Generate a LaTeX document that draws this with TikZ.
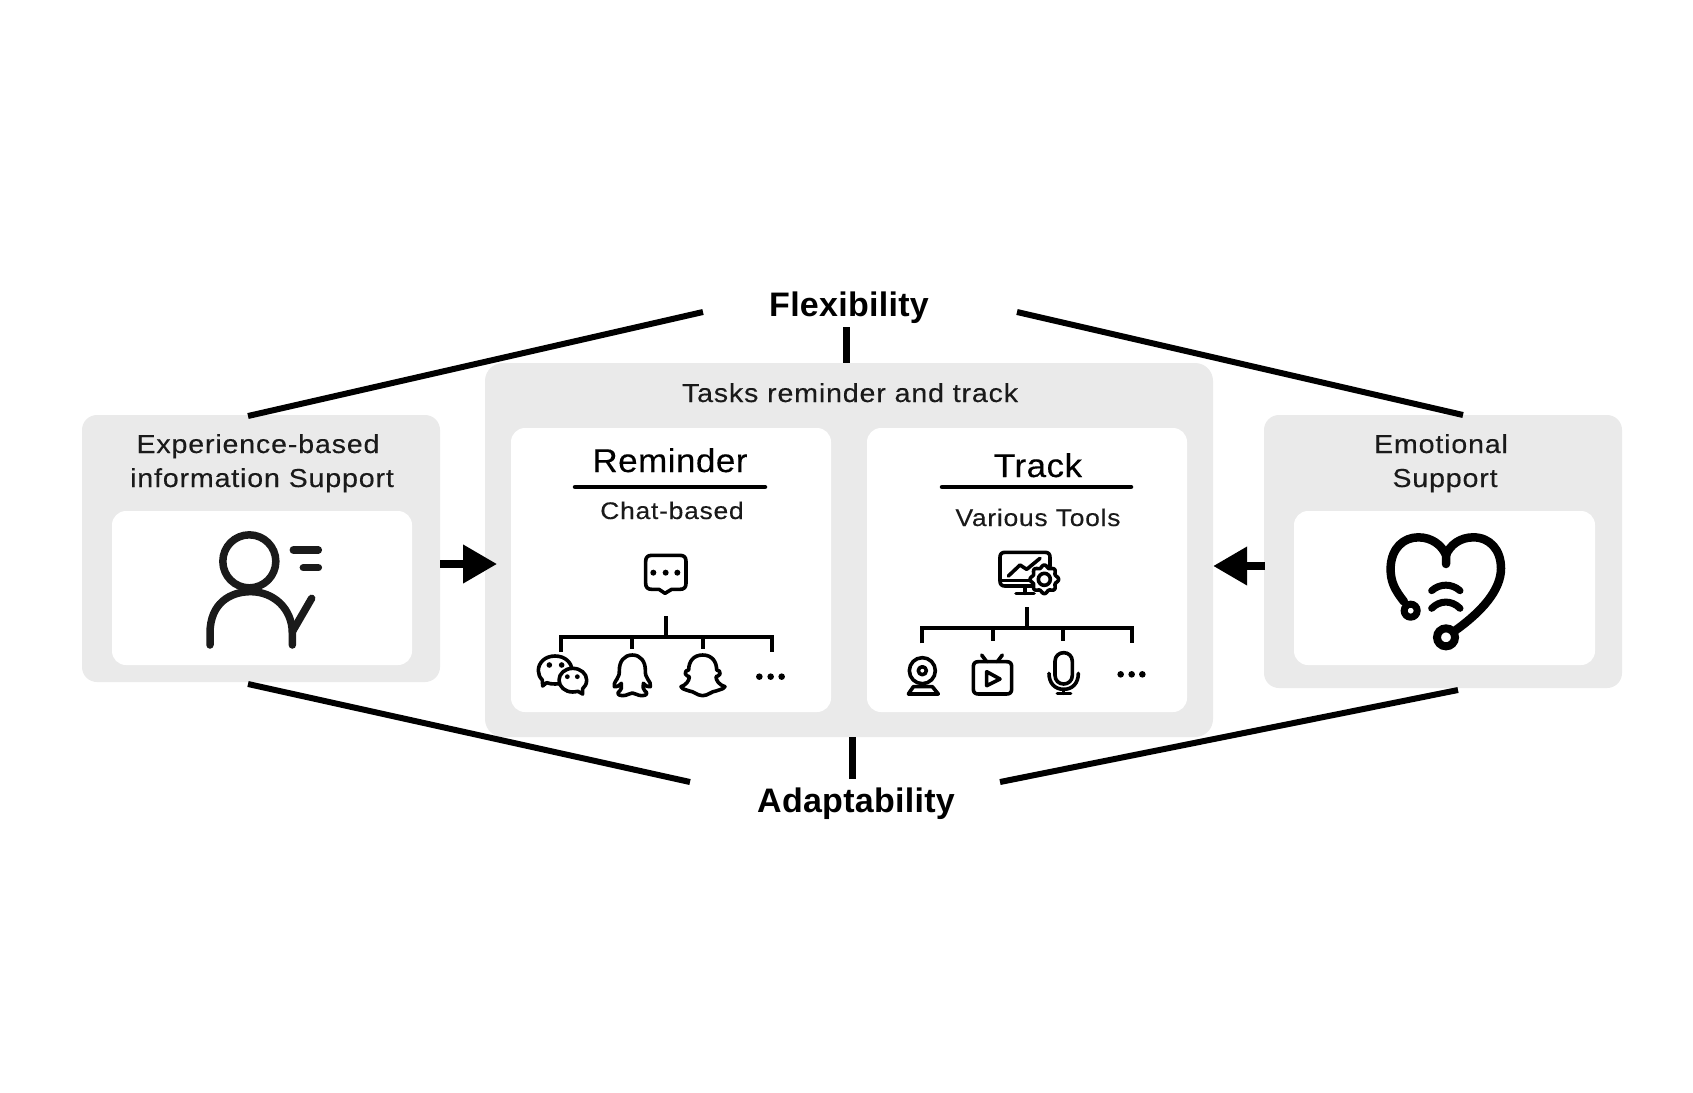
\documentclass[tikz,border=0pt]{standalone}
\usepackage{fontspec}
\setmainfont{Liberation Sans}[FakeStretch=1.1,LetterSpace=3.2,FakeBold=0.25]
\newfontfamily\headfont{Liberation Sans}[LetterSpace=0.8]
\newfontfamily\midfont{Liberation Sans}[FakeStretch=1.06,LetterSpace=1.5,FakeBold=0.25]
\usetikzlibrary{arrows.meta}
\definecolor{panelgray}{HTML}{EAEAEA}
\definecolor{inktext}{HTML}{1A1A1A}
\tikzset{
  graybox/.style={fill=panelgray,rounded corners=15pt,inner sep=0pt,draw=none},
  whitebox/.style={fill=white,rounded corners=14pt,inner sep=0pt,draw=none},
  label/.style={anchor=base,inner sep=0pt,text=inktext,font=\fontsize{26}{30}\selectfont},
  sublabel/.style={anchor=base,inner sep=0pt,text=inktext,font=\fontsize{24}{30}\selectfont},
  titlelabel/.style={anchor=base,inner sep=0pt,text=black,font=\midfont\fontsize{33}{38}\selectfont},
  headlabel/.style={anchor=base,inner sep=0pt,text=black,font=\headfont\bfseries\fontsize{34}{38}\selectfont},
  linkline/.style={line width=6pt,draw=black},
  stemline/.style={line width=7pt,draw=black},
  ruleline/.style={line width=4.5pt,draw=black,line cap=round},
  treeline/.style={line width=4pt,draw=black},
  flowarrow/.style={line width=7.5pt,draw=black,-{Triangle[length=34pt,width=37pt]}},
  icon/.style={line width=7.5pt,draw=inktext,line cap=round,line join=round},
  smallicon/.style={line width=3.6pt,draw=black,line join=round,line cap=round},
  zA/.style={x=.33333pt,y=-.33333pt,shift={(60pt,-400pt)}},
  zB/.style={x=.33333pt,y=-.33333pt,shift={(500pt,-530pt)}},
  zC/.style={x=.33333pt,y=-.33333pt,shift={(860pt,-530pt)}},
  zD/.style={x=.33333pt,y=-.33333pt,shift={(1200pt,-400pt)}},
}
\begin{document}
\begin{tikzpicture}[x=1pt,y=-1pt]
\useasboundingbox (0,0) rectangle (1693,1092);
\fill[white] (0,0) rectangle (1693,1092);

% boxes
\node[graybox,minimum width=358pt,minimum height=267pt] (leftbox) at (261,548.5) {};
\node[whitebox,minimum width=300pt,minimum height=154pt] (leftin) at (262,588) {};
\node[graybox,minimum width=358pt,minimum height=273pt] (rightbox) at (1443,551.5) {};
\node[whitebox,minimum width=301pt,minimum height=154pt] (rightin) at (1444.5,588) {};
\node[graybox,rounded corners=18pt,minimum width=728pt,minimum height=374pt] (midbox) at (849,550) {};
\node[whitebox,minimum width=320pt,minimum height=284pt] (remind) at (671,570) {};
\node[whitebox,minimum width=320pt,minimum height=284pt] (track) at (1027,570) {};

% labels
\node[headlabel] (flex) at (849,316) {Flexibility};
\node[headlabel] (adapt) at (856,812) {Adaptability};
\node[label] (tasks) at (850,402) {Tasks reminder and track};
\node[label] (exp1) at (258,453) {Experience-based};
\node[label] (exp2) at (262,487) {information Support};
\node[label] (emo1) at (1441,453) {Emotional};
\node[label] (emo2) at (1445,487) {Support};
\node[titlelabel] (remt) at (670,472) {Reminder};
\node[titlelabel] (trat) at (1038,477) {Track};
\node[sublabel] (chat) at (672,519) {Chat-based};
\node[sublabel] (tools) at (1038,526) {Various Tools};

% outer connectors
\coordinate (tl) at (248,416);
\coordinate (tlf) at (703,312);
\coordinate (trf) at (1017,312);
\coordinate (tr) at (1463,415);
\coordinate (bl) at (248,684);
\coordinate (blf) at (690,782);
\coordinate (brf) at (1000,782);
\coordinate (br) at (1458,690);
\coordinate (tcf) at (846,327);
\coordinate (bcf) at (852,779);
\draw[linkline] (tl) -- (tlf);
\draw[linkline] (trf) -- (tr);
\draw[linkline] (bl) -- (blf);
\draw[linkline] (brf) -- (br);
\draw[stemline] (tcf) -- (tcf |- midbox.north);
\draw[stemline] (bcf) -- (bcf |- midbox.south);

% rules
\coordinate (rr1) at (575,487); \coordinate (rr2) at (765,487);
\coordinate (tr1) at (942,487); \coordinate (tr2) at (1131,487);
\draw[ruleline] (rr1) -- (rr2);
\draw[ruleline] (tr1) -- (tr2);

% flow arrows
\coordinate (al) at (440,564);
\coordinate (alt) at (497,564);
\coordinate (ar) at (1265,566);
\draw[flowarrow] (al) -- (alt);
\draw[flowarrow] (ar) -- (ar -| midbox.east);

% person icon
\begin{scope}[zA]
\draw[icon] (568,484) circle (26.5pt);
\draw[icon] (450,735) -- (450,700) .. controls (450,610) and (510,575) .. (572,575) .. controls (640,575) and (697,625) .. (697,700) -- (697,735);
\draw[icon] (697,695) -- (755,595);
\draw[icon] (700,450) -- (775,450);
\draw[icon] (730,503) -- (775,503);
\end{scope}

% heart icon
\begin{scope}[zD]
\draw[line width=8.5pt,draw=black,line cap=round,line join=round]
  (612,605) .. controls (585,570) and (570,545) .. (572,500)
  .. controls (575,445) and (610,412) .. (655,412)
  .. controls (695,412) and (725,435) .. (738,465) -- (738,492);
\draw[line width=8.5pt,draw=black,line cap=round,line join=round]
  (738,465) .. controls (750,435) and (780,412) .. (820,412)
  .. controls (870,412) and (903,450) .. (903,505)
  .. controls (903,570) and (845,635) .. (765,692);
\draw[line width=7pt,draw=black,fill=white] (632,632) circle (6.5pt);
\draw[line width=8pt,draw=black,fill=white] (738,712) circle (9pt);
\draw[line width=7pt,draw=black,line cap=round] (695,572) .. controls (720,550) and (755,550) .. (780,572);
\draw[line width=7pt,draw=black,line cap=round] (695,625) .. controls (720,600) and (755,600) .. (780,625);
\end{scope}

% reminder tree
\coordinate (rs) at (666.3,616); \coordinate (rj) at (666.3,636.7);
\coordinate (ra) at (561,636.7); \coordinate (rb) at (632.3,636.7);
\coordinate (rc) at (702.7,636.7); \coordinate (rd) at (771.7,636.7);
\coordinate (ra2) at (561,651.7); \coordinate (rb2) at (632.3,649.3);
\coordinate (rc2) at (702.7,649.3); \coordinate (rd2) at (771.7,651.7);
\draw[treeline] (rs) -- (rj);
\draw[treeline] (ra2) -- (ra) -- (rd) -- (rd2);
\draw[treeline] (rb) -- (rb2);
\draw[treeline] (rc) -- (rc2);

% track tree
\coordinate (ts) at (1027.3,607.3); \coordinate (tj) at (1027.3,628.3);
\coordinate (ta) at (922.3,628.3); \coordinate (tb) at (993,628.3);
\coordinate (tc) at (1063.3,628.3); \coordinate (td) at (1132.3,628.3);
\coordinate (ta2) at (922.3,643.3); \coordinate (tb2) at (993,641);
\coordinate (tc2) at (1063.3,641); \coordinate (td2) at (1132.3,643.3);
\draw[treeline] (ts) -- (tj);
\draw[treeline] (ta2) -- (ta) -- (td) -- (td2);
\draw[treeline] (tb) -- (tb2);
\draw[treeline] (tc) -- (tc2);

% reminder icons
\begin{scope}[zB]
% bubble
\draw[smallicon] (455,76) -- (540,76) .. controls (552,76) and (558,82) .. (558,94) -- (558,160)
  .. controls (558,172) and (552,178) .. (540,178) -- (515,178) -- (495,190) -- (477,178) -- (455,178)
  .. controls (443,178) and (437,172) .. (437,160) -- (437,94) .. controls (437,82) and (443,76) .. (455,76) -- cycle;
\foreach \d in {460,497,532} \fill (\d,128) circle (3pt);
% wechat
\draw[smallicon,fill=white] (165,378) .. controls (195,378) and (216,398) .. (216,422) .. controls (216,448) and (195,462) .. (165,462)
  .. controls (155,462) and (148,461) .. (140,458) -- (128,468) -- (127,450) .. controls (119,442) and (115,432) .. (115,422)
  .. controls (115,398) and (135,378) .. (165,378) -- cycle;
\draw[smallicon,fill=white] (218,415) .. controls (242,415) and (260,431) .. (260,450) .. controls (260,462) and (255,470) .. (248,476)
  -- (248,492) -- (234,484) .. controls (228,485) and (222,486) .. (218,486) .. controls (195,486) and (177,470) .. (177,450)
  .. controls (177,431) and (195,415) .. (218,415) -- cycle;
\foreach \d in {148,185} \fill (\d,405) circle (2.8pt);
\foreach \d in {202,232} \fill (\d,440) circle (2.4pt);
% penguin
\draw[smallicon] (397,375) .. controls (372,375) and (358,395) .. (358,420)
  .. controls (358,433) and (357,438) .. (351,447) .. controls (345,456) and (340,464) .. (343,470)
  .. controls (348,473) and (356,468) .. (364,460) .. controls (364,472) and (366,478) .. (360,482)
  .. controls (350,488) and (352,497) .. (368,497) .. controls (382,497) and (388,489) .. (397,489)
  .. controls (406,489) and (412,497) .. (426,497) .. controls (442,497) and (444,488) .. (434,482)
  .. controls (428,478) and (430,472) .. (430,460) .. controls (438,468) and (446,473) .. (451,470)
  .. controls (454,464) and (449,456) .. (443,447) .. controls (437,438) and (436,433) .. (436,420)
  .. controls (436,395) and (422,375) .. (397,375) -- cycle;
% ghost
\draw[smallicon] (608,375) .. controls (580,375) and (566,395) .. (566,420)
  .. controls (560,420) and (553,425) .. (556,432) .. controls (558,438) and (565,438) .. (568,440)
  .. controls (568,452) and (558,465) .. (543,470) .. controls (548,480) and (560,478) .. (568,483)
  .. controls (580,483) and (592,497) .. (608,497)
  .. controls (624,497) and (636,483) .. (648,483) .. controls (656,478) and (668,480) .. (675,470)
  .. controls (658,465) and (648,452) .. (648,440) .. controls (651,438) and (658,438) .. (660,432)
  .. controls (663,425) and (656,420) .. (650,420) .. controls (650,395) and (636,375) .. (608,375) -- cycle;
\foreach \d in {778,812,845} \fill (\d,440) circle (3.3pt);
\end{scope}

% track icons
\begin{scope}[zC]
% monitor
\draw[smallicon] (520,168) -- (435,168) .. controls (425,168) and (420,163) .. (420,153) -- (420,82)
  .. controls (420,72) and (425,67) .. (435,67) -- (555,67) .. controls (565,67) and (570,72) .. (570,82) -- (570,110);
\draw[smallicon] (422,152) -- (515,152);
\draw[smallicon] (495,170) -- (495,190);
\draw[smallicon] (468,190) -- (522,190);
\draw[smallicon] (445,138) -- (480,105) -- (500,118) -- (540,85);
\draw[smallicon,fill=white] plot[domain=0:360,samples=73,smooth]
  ({553+(39+4*cos(8*\x))*cos(\x)},{148+(39+4*cos(8*\x))*sin(\x)}) -- cycle;
\draw[smallicon] (553,148) circle (6pt);
% webcam
\draw[smallicon] (187,422) circle (13pt);
\draw[smallicon] (187,422) circle (4pt);
\draw[smallicon] (160,470) -- (145,492) -- (235,492) -- (217,470) -- cycle;
% tv
\draw[smallicon] (355,395) -- (440,395) .. controls (450,395) and (455,400) .. (455,410) -- (455,477)
  .. controls (455,487) and (450,492) .. (440,492) -- (355,492) .. controls (345,492) and (340,487) .. (340,477)
  -- (340,410) .. controls (340,400) and (345,395) .. (355,395) -- cycle;
\draw[smallicon] (365,375) -- (380,395);
\draw[smallicon] (427,375) -- (412,395);
\draw[smallicon] (380,425) -- (380,467) -- (420,447) -- cycle;
% mic
\draw[smallicon] (585,394) .. controls (585,378) and (597,368) .. (611,368) .. controls (625,368) and (637,378) .. (637,394)
  -- (637,436) .. controls (637,452) and (625,462) .. (611,462) .. controls (597,462) and (585,452) .. (585,436) -- cycle;
\draw[smallicon] (567,430) .. controls (567,460) and (585,478) .. (611,478) .. controls (637,478) and (655,460) .. (655,430);
\draw[smallicon] (611,478) -- (611,490);
\draw[smallicon] (592,490) -- (632,490);
\foreach \d in {782,815,847} \fill (\d,433) circle (3.3pt);
\end{scope}
\end{tikzpicture}
\end{document}
